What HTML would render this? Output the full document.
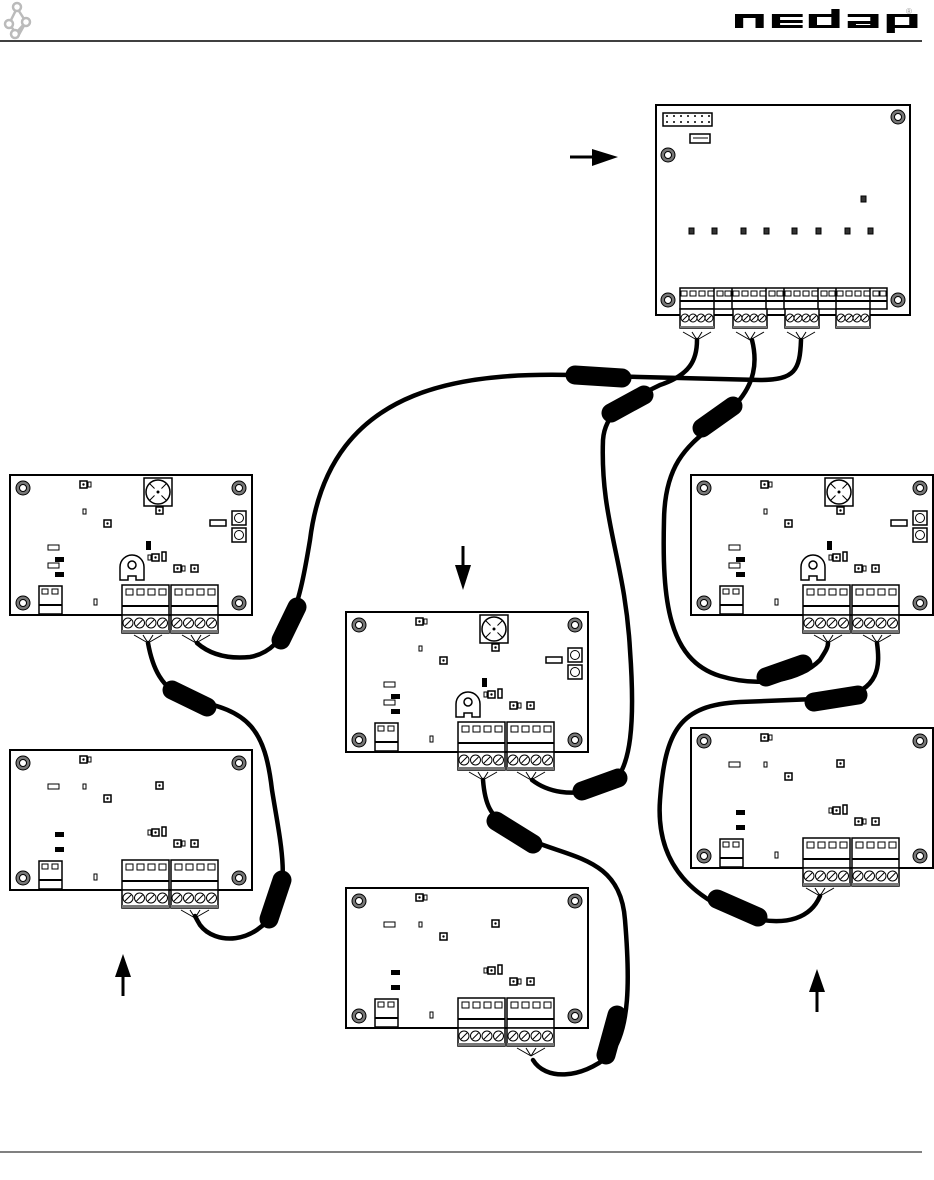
<!DOCTYPE html>
<html><head><meta charset="utf-8"><style>
html,body{margin:0;padding:0;background:#fff;}
svg{display:block;}
</style></head><body>
<svg width="934" height="1180" viewBox="0 0 934 1180" xmlns="http://www.w3.org/2000/svg">
<defs>
<g id="hole">
  <circle r="7" fill="#777" stroke="#000" stroke-width="1"/>
  <circle r="3.5" fill="#fff" stroke="#000" stroke-width="1"/>
</g>
<g id="tb">
  <rect x="0" y="0" width="47" height="30" fill="#fff" stroke="#000" stroke-width="1.5"/>
  <rect x="4" y="4" width="7" height="6" fill="#fff" stroke="#000"/>
  <rect x="15" y="4" width="7" height="6" fill="#fff" stroke="#000"/>
  <rect x="26" y="4" width="7" height="6" fill="#fff" stroke="#000"/>
  <rect x="37" y="4" width="7" height="6" fill="#fff" stroke="#000"/>
  <line x1="0" y1="21" x2="47" y2="21" stroke="#000" stroke-width="2"/>
  <rect x="0" y="30" width="47" height="18" fill="#fff" stroke="#000" stroke-width="1.5"/>
  <g fill="#fff" stroke="#000" stroke-width="1">
    <circle cx="6" cy="38" r="5"/><circle cx="17.5" cy="38" r="5"/><circle cx="29" cy="38" r="5"/><circle cx="40.5" cy="38" r="5"/>
  </g>
  <g stroke="#000" stroke-width="1">
    <line x1="3" y1="41" x2="9" y2="35"/><line x1="14.5" y1="41" x2="20.5" y2="35"/><line x1="26" y1="41" x2="32" y2="35"/><line x1="37.5" y1="41" x2="43.5" y2="35"/>
  </g>
  <rect x="0" y="45" width="47" height="3" fill="#777"/>
</g>
<g id="board">
  <rect x="0" y="0" width="242" height="140" fill="#fff" stroke="#000" stroke-width="2"/>
  <use href="#hole" x="13" y="13"/><use href="#hole" x="229" y="13"/>
  <use href="#hole" x="13" y="128"/><use href="#hole" x="229" y="128"/>
  <rect x="29" y="111" width="23" height="28" fill="#fff" stroke="#000" stroke-width="1.5"/>
  <rect x="32" y="114" width="6" height="5" fill="#fff" stroke="#000"/>
  <rect x="42" y="114" width="6" height="5" fill="#fff" stroke="#000"/>
  <line x1="29" y1="130" x2="52" y2="130" stroke="#000" stroke-width="2"/>
  <rect x="84" y="124" width="3" height="6" fill="#fff" stroke="#000"/>
  <rect x="70" y="6" width="7" height="7" fill="#fff" stroke="#000" stroke-width="1.5"/><circle cx="73.5" cy="9.5" r="1.2"/>
  <rect x="78" y="7" width="3" height="5" fill="#fff" stroke="#000"/>
  <rect x="73" y="34" width="3" height="5" fill="#fff" stroke="#000"/>
  <rect x="94" y="45" width="7" height="7" fill="#fff" stroke="#000" stroke-width="1.5"/><circle cx="97.5" cy="48.5" r="1.2"/>
  <rect x="146" y="32" width="7" height="7" fill="#fff" stroke="#000" stroke-width="1.5"/><circle cx="149.5" cy="35.5" r="1.2"/>
  <rect x="142" y="79" width="7" height="7" fill="#fff" stroke="#000" stroke-width="1.5"/><circle cx="145.5" cy="82.5" r="1.2"/>
  <rect x="138" y="80" width="3" height="5" fill="#fff" stroke="#000"/>
  <rect x="152" y="77" width="4" height="9" fill="#fff" stroke="#000" stroke-width="1.5"/>
  <rect x="164" y="90" width="7" height="7" fill="#fff" stroke="#000" stroke-width="1.5"/><circle cx="167.5" cy="93.5" r="1.2"/>
  <rect x="172" y="91" width="3" height="5" fill="#fff" stroke="#000"/>
  <rect x="181" y="90" width="7" height="7" fill="#fff" stroke="#000" stroke-width="1.5"/><circle cx="184.5" cy="93.5" r="1.2"/>
  <rect x="45" y="82" width="9" height="5" fill="#000"/>
  <rect x="45" y="97" width="9" height="5" fill="#000"/>
  <use href="#tb" x="112" y="110"/><use href="#tb" x="161" y="110"/>
</g>
<g id="boardfull">
  <use href="#board"/>
  <rect x="134" y="3" width="28" height="28" fill="#fff" stroke="#000" stroke-width="1.5"/>
  <circle cx="148" cy="17" r="12" fill="#fff" stroke="#000" stroke-width="1.5"/>
  <line x1="139" y1="8" x2="157" y2="26" stroke="#000"/><line x1="157" y1="8" x2="139" y2="26" stroke="#000"/>
  <circle cx="148" cy="17" r="5" fill="#fff"/><circle cx="148" cy="17" r="1.5"/>
  <rect x="222" y="36" width="14" height="14" fill="#fff" stroke="#000" stroke-width="1.5"/><circle cx="229" cy="43" r="4.5" fill="#fff" stroke="#000"/>
  <rect x="222" y="53" width="14" height="14" fill="#fff" stroke="#000" stroke-width="1.5"/><circle cx="229" cy="60" r="4.5" fill="#fff" stroke="#000"/>
  <rect x="200" y="45" width="16" height="6" fill="#fff" stroke="#000" stroke-width="1.5"/>
  <rect x="136" y="66" width="5" height="9" fill="#000"/>
  <rect x="38" y="70" width="11" height="5" fill="#fff" stroke="#000"/>
  <rect x="38" y="88" width="11" height="5" fill="#fff" stroke="#000"/>
  <path d="M110 105 L110 92 A11 11 0 1 1 134 92 L134 105 L126 105 L126 101 L118 101 L118 105 Z" fill="#fff" stroke="#000" stroke-width="1.5"/>
  <circle cx="122" cy="90" r="4" fill="#fff" stroke="#000" stroke-width="1.5"/>
</g>
<g id="boardlite">
  <use href="#board"/>
  <rect x="38" y="34" width="11" height="5" fill="#fff" stroke="#000"/>
</g>
<g id="fan" stroke="#000" stroke-width="1" fill="none">
  <line x1="-14" y1="-6" x2="0" y2="2"/><line x1="-5" y1="-6" x2="0" y2="2"/><line x1="5" y1="-6" x2="0" y2="2"/><line x1="14" y1="-6" x2="0" y2="2"/>
</g>
</defs>

<!-- header -->
<g stroke="#bbb" stroke-width="2.5" fill="#fff">
  <line x1="9" y1="24" x2="17" y2="8"/><line x1="17" y1="8" x2="26" y2="22"/><line x1="9" y1="24" x2="16" y2="33"/><line x1="16" y1="33" x2="26" y2="22"/><line x1="26" y1="22" x2="17" y2="38"/>
  <circle cx="9" cy="24" r="4"/><circle cx="17" cy="7" r="4"/><circle cx="26" cy="22" r="4"/><circle cx="15" cy="34" r="4"/>
</g>
<g fill="#000" transform="translate(735,0) scale(2.05,1) translate(-735,0)">
  <path d="M735 14h14v14h-4v-10h-6v10h-4z"/>
  <path d="M753 14h15v3h-11v3h11v3h-11v2h11v3h-15z"/>
  <path d="M782 9h4v19h-15v-14h11zm-7 8v8h7v-8z"/>
  <path d="M790 14h15v14h-15v-7h11v-4h-11zm4 10v1h7v-1z"/>
  <path d="M809 14h15v14h-11v5h-4zm4 3v8h7v-8z"/>
</g>
<text x="906" y="14" font-family="Liberation Sans, sans-serif" font-size="8" fill="#999">®</text>
<line x1="0" y1="41" x2="922" y2="41" stroke="#000" stroke-width="1.5"/>
<line x1="0" y1="1152" x2="922" y2="1152" stroke="#000" stroke-width="1"/>

<!-- controller -->
<rect x="656" y="105" width="254" height="210" fill="#fff" stroke="#000" stroke-width="2"/>
<use href="#hole" x="898" y="117"/><use href="#hole" x="668" y="155"/>
<use href="#hole" x="668" y="300"/><use href="#hole" x="898" y="300"/>
<rect x="663" y="113" width="49" height="13" fill="#fff" stroke="#000" stroke-width="1.5"/>
<g fill="#000"><circle cx="667" cy="116" r="1"/><circle cx="674" cy="116" r="1"/><circle cx="681" cy="116" r="1"/><circle cx="688" cy="116" r="1"/><circle cx="695" cy="116" r="1"/><circle cx="702" cy="116" r="1"/><circle cx="709" cy="116" r="1"/><circle cx="667" cy="122" r="1"/><circle cx="674" cy="122" r="1"/><circle cx="681" cy="122" r="1"/><circle cx="688" cy="122" r="1"/><circle cx="695" cy="122" r="1"/><circle cx="702" cy="122" r="1"/><circle cx="709" cy="122" r="1"/></g>
<rect x="690" y="134" width="20" height="9" fill="#fff" stroke="#000" stroke-width="1.5"/>
<line x1="693" y1="138" x2="708" y2="138" stroke="#000"/>
<g fill="#333" stroke="#000"><rect x="861" y="196" width="5" height="6"/><rect x="689" y="228" width="5" height="6"/><rect x="712" y="228" width="5" height="6"/><rect x="741" y="228" width="5" height="6"/><rect x="764" y="228" width="5" height="6"/><rect x="792" y="228" width="5" height="6"/><rect x="816" y="228" width="5" height="6"/><rect x="845" y="228" width="5" height="6"/><rect x="868" y="228" width="5" height="6"/></g>
<rect x="680" y="288" width="207" height="21" fill="#fff" stroke="#000" stroke-width="1.5"/>
<line x1="680" y1="301" x2="887" y2="301" stroke="#000" stroke-width="2"/>
<g fill="#fff" stroke="#000">
<rect x="681" y="291" width="6" height="5"/><rect x="690" y="291" width="6" height="5"/><rect x="699" y="291" width="6" height="5"/><rect x="708" y="291" width="6" height="5"/><rect x="717" y="291" width="6" height="5"/><rect x="725" y="291" width="6" height="5"/>
<rect x="733" y="291" width="6" height="5"/><rect x="742" y="291" width="6" height="5"/><rect x="751" y="291" width="6" height="5"/><rect x="760" y="291" width="6" height="5"/><rect x="769" y="291" width="6" height="5"/><rect x="777" y="291" width="6" height="5"/>
<rect x="785" y="291" width="6" height="5"/><rect x="794" y="291" width="6" height="5"/><rect x="803" y="291" width="6" height="5"/><rect x="812" y="291" width="6" height="5"/><rect x="821" y="291" width="6" height="5"/><rect x="829" y="291" width="6" height="5"/>
<rect x="837" y="291" width="6" height="5"/><rect x="846" y="291" width="6" height="5"/><rect x="855" y="291" width="6" height="5"/><rect x="864" y="291" width="6" height="5"/><rect x="873" y="291" width="6" height="5"/><rect x="880" y="291" width="6" height="5"/>
</g>
<g stroke="#000" stroke-width="1.5"><line x1="714" y1="288" x2="714" y2="309"/><line x1="732" y1="288" x2="732" y2="309"/><line x1="766" y1="288" x2="766" y2="309"/><line x1="784" y1="288" x2="784" y2="309"/><line x1="818" y1="288" x2="818" y2="309"/><line x1="836" y1="288" x2="836" y2="309"/><line x1="870" y1="288" x2="870" y2="309"/></g>
<rect x="680" y="309" width="34" height="19" fill="#fff" stroke="#000" stroke-width="1.5"/>
<rect x="733" y="309" width="34" height="19" fill="#fff" stroke="#000" stroke-width="1.5"/>
<rect x="785" y="309" width="34" height="19" fill="#fff" stroke="#000" stroke-width="1.5"/>
<rect x="836" y="309" width="34" height="19" fill="#fff" stroke="#000" stroke-width="1.5"/>
<g fill="#fff" stroke="#000">
<circle cx="685" cy="318" r="4"/><circle cx="693" cy="318" r="4"/><circle cx="701" cy="318" r="4"/><circle cx="709" cy="318" r="4"/>
<circle cx="738" cy="318" r="4"/><circle cx="746" cy="318" r="4"/><circle cx="754" cy="318" r="4"/><circle cx="762" cy="318" r="4"/>
<circle cx="790" cy="318" r="4"/><circle cx="798" cy="318" r="4"/><circle cx="806" cy="318" r="4"/><circle cx="814" cy="318" r="4"/>
<circle cx="841" cy="318" r="4"/><circle cx="849" cy="318" r="4"/><circle cx="857" cy="318" r="4"/><circle cx="865" cy="318" r="4"/>
</g>
<g stroke="#000" stroke-width="1">
<line x1="682" y1="321" x2="688" y2="315"/><line x1="690" y1="321" x2="696" y2="315"/><line x1="698" y1="321" x2="704" y2="315"/><line x1="706" y1="321" x2="712" y2="315"/>
<line x1="735" y1="321" x2="741" y2="315"/><line x1="743" y1="321" x2="749" y2="315"/><line x1="751" y1="321" x2="757" y2="315"/><line x1="759" y1="321" x2="765" y2="315"/>
<line x1="787" y1="321" x2="793" y2="315"/><line x1="795" y1="321" x2="801" y2="315"/><line x1="803" y1="321" x2="809" y2="315"/><line x1="811" y1="321" x2="817" y2="315"/>
<line x1="838" y1="321" x2="844" y2="315"/><line x1="846" y1="321" x2="852" y2="315"/><line x1="854" y1="321" x2="860" y2="315"/><line x1="862" y1="321" x2="868" y2="315"/>
</g>
<g fill="#777"><rect x="680" y="326" width="34" height="2"/><rect x="733" y="326" width="34" height="2"/><rect x="785" y="326" width="34" height="2"/><rect x="836" y="326" width="34" height="2"/></g>
<use href="#fan" x="697" y="338"/><use href="#fan" x="750" y="338"/><use href="#fan" x="801" y="338"/>

<!-- boards -->
<use href="#boardfull" x="10" y="475"/>
<use href="#boardlite" x="10" y="750"/>
<use href="#boardfull" x="346" y="612"/>
<use href="#boardlite" x="346" y="888"/>
<use href="#boardfull" x="691" y="475"/>
<use href="#boardlite" x="691" y="728"/>

<use href="#fan" x="148" y="641"/><use href="#fan" x="196" y="641"/>
<use href="#fan" x="195" y="916"/>
<use href="#fan" x="483" y="778"/><use href="#fan" x="531" y="778"/>
<use href="#fan" x="531" y="1054"/>
<use href="#fan" x="828" y="641"/><use href="#fan" x="877" y="641"/>
<use href="#fan" x="820" y="894"/>

<!-- cables -->
<g fill="none" stroke="#000" stroke-width="4.5" stroke-linecap="round">
  <path d="M801 340 C800 370 795 380 760 380 L600 376 C470 370 330 380 310 540 C300 600 290 650 250 657 C220 660 205 650 197 643"/>
  <path d="M697 340 C697 360 690 375 660 385 C630 400 605 410 603 440 C600 520 625 560 630 650 C635 720 632 770 610 785 C570 800 545 790 532 780"/>
  <path d="M752 340 C757 360 757 385 730 410 C700 440 665 450 664 520 C662 600 668 660 720 676 C760 688 800 680 820 660 C825 652 828 648 828 643"/>
  <path d="M148 643 C152 665 160 690 190 700 C250 710 265 730 272 790 C280 840 290 880 275 910 C255 945 215 945 200 925 C197 920 196 918 195 916"/>
  <path d="M877 643 C880 665 880 690 840 698 L740 702 C680 705 665 730 660 800 C655 870 700 900 740 915 C790 930 812 915 820 896"/>
  <path d="M483 780 C485 805 490 815 510 830 C560 860 620 850 625 920 C630 980 630 1030 610 1055 C580 1080 545 1080 533 1060"/>
</g>
<!-- ferrite beads -->
<g stroke="#000" stroke-linecap="round" fill="none" stroke-width="19">
  <line x1="575" y1="375" x2="622" y2="378"/>
  <line x1="611" y1="413" x2="644" y2="395"/>
  <line x1="702" y1="428" x2="733" y2="406"/>
  <line x1="297" y1="607" x2="281" y2="640"/>
  <line x1="582" y1="791" x2="618" y2="778"/>
  <line x1="766" y1="677" x2="803" y2="664"/>
  <line x1="814" y1="702" x2="858" y2="695"/>
  <line x1="172" y1="690" x2="207" y2="707"/>
  <line x1="282" y1="880" x2="269" y2="919"/>
  <line x1="717" y1="899" x2="758" y2="917"/>
  <line x1="496" y1="821" x2="533" y2="844"/>
  <line x1="617" y1="1015" x2="606" y2="1055"/>
</g>

<!-- arrows -->
<g fill="#000" stroke="#000">
  <line x1="570" y1="157" x2="595" y2="157" stroke-width="3"/>
  <polygon points="592,149 618,157 592,166" stroke="none"/>
  <line x1="463" y1="546" x2="463" y2="568" stroke-width="3"/>
  <polygon points="455,565 471,565 463,590" stroke="none"/>
  <line x1="123" y1="975" x2="123" y2="996" stroke-width="3"/>
  <polygon points="115,977 131,977 123,954" stroke="none"/>
  <line x1="817" y1="990" x2="817" y2="1012" stroke-width="3"/>
  <polygon points="809,992 825,992 817,969" stroke="none"/>
</g>
</svg>
</body></html>
